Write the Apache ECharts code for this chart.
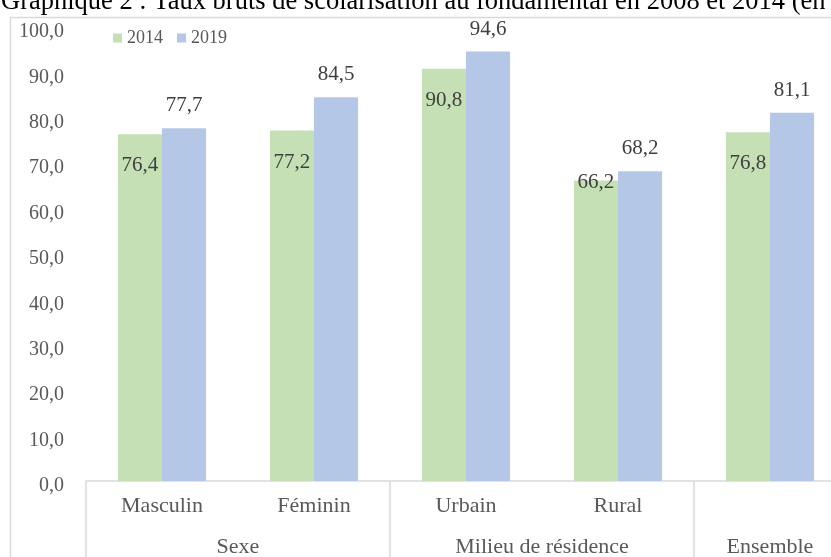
<!DOCTYPE html>
<html><head><meta charset="utf-8">
<script src="https://cdn.jsdelivr.net/npm/echarts@6/dist/echarts.min.js"></script>
<style>html,body{margin:0;padding:0;background:#fff}#c{width:831px;height:557px}</style>
</head><body><div id="c"></div>
<script>
const titleText = 'Graphique 2 : Taux bruts de scolarisation au fondamental en 2008 et 2014 (en';
const categories = ['Masculin', 'Féminin', 'Urbain', 'Rural', ''];
const groupLabels = ['', '', 'Sexe', '', '', '', 'Milieu de résidence', '', '', 'Ensemble', ''];
const seriesNames = ['2014', '2019'];
const values2014 = [76.4, 77.2, 90.8, 66.2, 76.8];
const values2019 = [77.7, 84.5, 94.6, 68.2, 81.1];
const yTicks = [0, 10, 20, 30, 40, 50, 60, 70, 80, 90, 100];

const fmt = v => Number(v).toFixed(1).replace('.', ',');
const serif = 'Liberation Serif, Times New Roman, serif';
const chart = echarts.init(document.getElementById('c'));
chart.setOption({
  animation: false,
  title: { text: titleText, left: -4, top: -16,
    textStyle: { fontFamily: serif, fontSize: 26.5, fontWeight: 'normal', color: '#000' } },
  graphic: [{ type: 'rect', shape: { x: 10.5, y: 17.5, width: 900, height: 700 },
    style: { fill: 'none', stroke: '#d9d9d9', lineWidth: 1.5 }, z: -1 }],
  legend: { left: 108, top: 24, icon: 'rect', itemWidth: 9, itemHeight: 9, itemGap: 14,
    textStyle: { fontFamily: serif, fontSize: 18, color: '#595959' }, data: seriesNames },
  grid: { left: 86, width: 760, top: 27, bottom: 76, containLabel: false, outerBoundsMode: 'none' },
  xAxis: [
    { type: 'category', data: categories, position: 'bottom',
      axisLine: { show: true, lineStyle: { color: '#d9d9d9', width: 1.5 } },
      axisTick: { show: false },
      axisLabel: { fontFamily: serif, fontSize: 22, color: '#595959', margin: 14 } },
    { type: 'category', data: groupLabels, position: 'bottom', boundaryGap: false,
      axisLine: { show: false },
      axisTick: { show: true, inside: false, length: 80,
        interval: i => [0, 4, 8, 10].includes(i), lineStyle: { color: '#d9d9d9', width: 1.5 } },
      axisLabel: { interval: 0, fontFamily: serif, fontSize: 22, color: '#595959', margin: 55 } }
  ],
  yAxis: { type: 'value', min: yTicks[0], max: yTicks[yTicks.length - 1], interval: 10,
    splitLine: { show: false }, axisLine: { show: false }, axisTick: { show: false },
    axisLabel: { formatter: fmt, fontFamily: serif, fontSize: 20, color: '#595959', margin: 22,
      verticalAlign: 'top', lineHeight: 10 } },
  series: [
    { name: seriesNames[0], type: 'bar', barGap: '0%', barCategoryGap: '42%',
      itemStyle: { color: '#c5e0b4' },
      data: values2014.map((v, i) => i === 3 ? { value: v, label: { distance: -8 } } : v),
      label: { show: true, position: 'insideTop', distance: 21, formatter: p => fmt(p.value),
        fontFamily: serif, fontSize: 21, color: '#404040' } },
    { name: seriesNames[1], type: 'bar', itemStyle: { color: '#b4c7e7' },
      data: values2019,
      label: { show: true, position: 'top', distance: 12, formatter: p => fmt(p.value),
        fontFamily: serif, fontSize: 21, color: '#404040' } }
  ]
});
</script></body></html>
